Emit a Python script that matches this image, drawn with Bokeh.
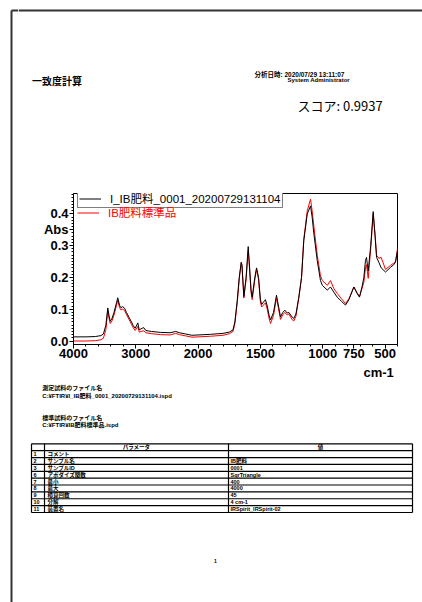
import numpy as np
from bokeh.plotting import figure
from bokeh.models import (Range1d, FixedTicker, CustomJSTickFormatter, CustomJSTransform,
                          Legend, LegendItem, ColumnDataSource)
from bokeh.transform import transform
from bokeh.layouts import row, column
from bokeh.core.properties import value
from bokeh.embed import file_html
from bokeh.resources import INLINE

# ---------------- data ----------------
wavenumber = [4000, 3800, 3650, 3560, 3520, 3480, 3450, 3430, 3410, 3380, 3350, 3310, 3290,
              3260, 3240, 3210, 3180, 3150, 3110, 3070, 3040, 3010, 2968, 2945, 2900, 2872,
              2840, 2750, 2600, 2450, 2360, 2300, 2200, 2100, 2000, 1900, 1800, 1750, 1720,
              1705, 1686, 1670, 1654, 1648, 1633, 1615, 1598, 1590, 1575, 1566, 1545, 1531,
              1515, 1500, 1490, 1460, 1445, 1430, 1419, 1395, 1371, 1355, 1339, 1320, 1304,
              1285, 1272, 1245, 1232, 1215, 1192, 1170, 1152, 1124, 1098, 1085, 1071, 1044,
              1018, 1003, 963, 938, 911, 884, 850, 817, 790, 750, 725, 705, 685, 670, 657,
              649, 635, 615, 595, 580, 568, 550, 531, 496, 456, 430, 416, 400]
sample_abs = [0.013, 0.013, 0.014, 0.017, 0.022, 0.050, 0.104, 0.080, 0.062, 0.072, 0.090, 0.120, 0.136,
              0.112, 0.105, 0.108, 0.103, 0.090, 0.075, 0.060, 0.048, 0.040, 0.057, 0.035, 0.040, 0.042,
              0.033, 0.030, 0.027, 0.026, 0.030, 0.026, 0.022, 0.018, 0.019, 0.021, 0.024, 0.028, 0.035,
              0.060, 0.128, 0.200, 0.248, 0.240, 0.140, 0.200, 0.297, 0.250, 0.160, 0.138, 0.200, 0.230,
              0.200, 0.130, 0.115, 0.130, 0.110, 0.080, 0.066, 0.090, 0.144, 0.110, 0.076, 0.090, 0.097,
              0.088, 0.090, 0.075, 0.071, 0.085, 0.138, 0.200, 0.316, 0.400, 0.425, 0.390, 0.337, 0.253,
              0.190, 0.175, 0.160, 0.170, 0.154, 0.138, 0.125, 0.113, 0.130, 0.170, 0.150, 0.138, 0.170,
              0.200, 0.253, 0.263, 0.220, 0.300, 0.407, 0.330, 0.263, 0.248, 0.230, 0.217, 0.232, 0.240,
              0.248, 0.284]
standard_abs = [0.000, 0.000, 0.001, 0.004, 0.009, 0.036, 0.095, 0.072, 0.055, 0.064, 0.082, 0.112, 0.128,
                0.105, 0.098, 0.100, 0.096, 0.083, 0.068, 0.053, 0.041, 0.033, 0.046, 0.028, 0.031, 0.032,
                0.026, 0.023, 0.020, 0.019, 0.024, 0.020, 0.016, 0.012, 0.013, 0.015, 0.018, 0.023, 0.030,
                0.055, 0.120, 0.195, 0.245, 0.236, 0.135, 0.193, 0.285, 0.242, 0.153, 0.130, 0.193, 0.225,
                0.193, 0.122, 0.107, 0.120, 0.100, 0.070, 0.055, 0.080, 0.135, 0.102, 0.068, 0.083, 0.090,
                0.082, 0.085, 0.067, 0.063, 0.078, 0.135, 0.200, 0.320, 0.410, 0.446, 0.410, 0.360, 0.270,
                0.205, 0.190, 0.175, 0.190, 0.165, 0.150, 0.133, 0.118, 0.133, 0.170, 0.152, 0.140, 0.165,
                0.185, 0.230, 0.240, 0.197, 0.290, 0.400, 0.335, 0.270, 0.260, 0.263, 0.225, 0.238, 0.245,
                0.250, 0.290]

sample_name = "I_IB肥料_0001_20200729131104"
standard_name = "IB肥料標準品"
x_tick_wn = [4000, 3000, 2000, 1500, 1000, 750, 500]
y_tick_labels = {0.0: "0.0", 0.1: "0.1", 0.2: "0.2", 0.3: "0.3", 0.35: "Abs", 0.4: "0.4"}

row_no = ["1", "2", "3", "6", "7", "8", "9", "10", "11"]
param_names = ["コメント", "サンプル名", "サンプルID", "アポダイズ関数", "最小", "最大", "積算回数", "分解", "装置名"]
param_values = ["", "IB肥料", "0001", "SqrTriangle", "400", "4000", "45", "4 cm-1", "IRSpirit_IRSpirit-02"]

# ---------------- styles ----------------
JP = "Noto Sans CJK JP"
MIX = "Liberation Sans, Noto Sans CJK JP"
BORDER = "#333333"
W = 422
H = 602
STRIP = 18
CW = W - STRIP
CH = 181

def wn_to_u(w):
    w = np.asarray(w, dtype=float)
    return np.where(w > 2000, (2000 - w) / 2.0, 2000 - w)

def blank(width, height, x0, x1, y0, y1):
    f = figure(width=width, height=height, x_range=Range1d(x0, x1), y_range=Range1d(y1, y0),
               output_backend="svg", toolbar_location=None, min_border=0)
    f.axis.visible = False
    f.grid.visible = False
    f.outline_line_color = None
    f.background_fill_color = "white"
    f.border_fill_color = "white"
    return f

def txt(f, x, y, s, size, font=JP, style="normal", color="black", align="left"):
    f.text(x=[x], y=[y], text=[s], text_font=value(font), text_font_size=size,
           text_font_style=style, text_color=color, text_align=align, text_baseline="middle")

# ---------------- left strip: page border, full height ----------------
strip = blank(STRIP, H, 0, STRIP, 0, H)
strip.segment(x0=[11, 11], y0=[10, 10], x1=[11, STRIP], y1=[H, 10], line_color=BORDER, line_width=2)
strip.styles = {"position": "relative", "z-index": "10"}

# ---------------- header (page y 0..185) ----------------
head = blank(CW, 185, STRIP, W, 0, 185)
head.segment(x0=[STRIP], y0=[10], x1=[W], y1=[10], line_color=BORDER, line_width=2)
txt(head, 31.5, 80, "一致度計算", "10px", style="bold")
txt(head, 254, 74, "分析日時: 2020/07/29 13:11:07", "6.5px", font=MIX, style="bold")
txt(head, 287, 79.5, "System Administrator", "6px", font=MIX, style="bold")
txt(head, 297, 105, "スコア: 0.9937", "13px", font=JP)

# ---------------- chart (page y 185..366) ----------------
chart = figure(width=CW, height=CH, x_range=Range1d(-1000, 1600), y_range=Range1d(-0.011, 0.464),
               output_backend="svg", toolbar_location=None,
               min_border_left=73 - STRIP, min_border_right=25, min_border_top=8, min_border_bottom=22)
chart.grid.visible = False
chart.outline_line_color = "black"
chart.outline_line_width = 1
chart.background_fill_color = "white"
chart.border_fill_color = None

src = ColumnDataSource(dict(wn=wavenumber, sample=sample_abs, standard=standard_abs))
brk = CustomJSTransform(v_func="return xs.map(w => w > 2000 ? (2000 - w) / 2 : 2000 - w)")
r_std = chart.line(x=transform("wn", brk), y="standard", source=src, line_color="#ff0000", line_width=1)
r_smp = chart.line(x=transform("wn", brk), y="sample", source=src, line_color="#000000", line_width=1)

minor_wn = list(range(4000, 2000, -200)) + list(range(2000, 399, -100))
chart.xaxis.ticker = FixedTicker(ticks=[float(v) for v in wn_to_u(x_tick_wn)],
                                 minor_ticks=[float(v) for v in wn_to_u(minor_wn)])
chart.xaxis.formatter = CustomJSTickFormatter(
    code="const w = tick < 0 ? 2000 - 2 * tick : 2000 - tick; return Math.round(w).toString();")
chart.yaxis.ticker = FixedTicker(ticks=list(y_tick_labels.keys()), minor_ticks=[i / 100 for i in range(0, 47)])
chart.yaxis.major_label_overrides = y_tick_labels
for ax in (chart.xaxis[0], chart.yaxis[0]):
    ax.major_label_text_font = "Liberation Sans"
    ax.major_label_text_font_size = "13px"
    ax.major_label_text_font_style = "bold"
    ax.major_label_text_color = "black"
    ax.axis_line_color = "black"
    ax.major_tick_line_color = "black"
    ax.minor_tick_line_color = "black"
    ax.major_tick_in = 0
    ax.major_tick_out = 4
    ax.minor_tick_in = 0
    ax.minor_tick_out = 2
chart.xaxis.major_label_standoff = 0
chart.yaxis.major_label_standoff = 1

common = dict(padding=1, margin=0, glyph_width=22, glyph_height=13, label_height=13,
              label_standoff=9, label_text_font=MIX, label_text_font_size="11.5px")
leg1 = Legend(items=[LegendItem(label=sample_name, renderers=[r_smp])], location=(4, 136),
              border_line_color="black", border_line_width=1, background_fill_alpha=1,
              label_text_color="black", **common)
leg2 = Legend(items=[LegendItem(label=standard_name, renderers=[r_std])], location=(4, 124),
              border_line_color=None, background_fill_alpha=0,
              label_text_color="#ff0000", **common)
chart.add_layout(leg1)
chart.add_layout(leg2)

# ---------------- footer (page y 366..602) ----------------
foot = blank(CW, H - 185 - CH, STRIP, W, 185 + CH, H)
txt(foot, 363, 372, "cm-1", "13px", font="Liberation Sans", style="bold")
txt(foot, 41.7, 386.7, "測定試料のファイル名", "6px", style="bold")
txt(foot, 41.7, 395, "C:¥FTIR¥" + sample_name + ".ispd", "6px", font=MIX, style="bold")
txt(foot, 41.7, 416.7, "標準試料のファイル名", "6px", style="bold")
txt(foot, 41.7, 424, "C:¥FTIR¥" + standard_name + ".ispd", "6px", font=MIX, style="bold")

tx0, tx1, tx2, tx3 = 31, 44, 228, 412
ty0, rh = 443.3, 6.87
n_rows = len(row_no) + 1
ys = [ty0 + k * rh for k in range(n_rows + 1)]
foot.segment(x0=[tx0] * len(ys), y0=ys, x1=[tx3] * len(ys), y1=ys, line_color="black", line_width=1.2)
foot.segment(x0=[tx0, tx1, tx2, tx3], y0=[ys[0]] * 4, x1=[tx0, tx1, tx2, tx3], y1=[ys[-1]] * 4,
             line_color="black", line_width=1.2)
txt(foot, (tx1 + tx2) / 2, ys[0] + rh / 2, "パラメータ", "5.5px", style="bold", align="center")
txt(foot, (tx2 + tx3) / 2, ys[0] + rh / 2, "値", "5.5px", style="bold", align="center")
for i, (n, pn, pv) in enumerate(zip(row_no, param_names, param_values)):
    yc = ys[i + 1] + rh / 2
    txt(foot, tx0 + 2, yc, n, "5.5px", font=MIX, style="bold")
    txt(foot, tx1 + 3, yc, pn, "5.5px", font=MIX, style="bold")
    if pv:
        txt(foot, tx2 + 2, yc, pv, "5.5px", font=MIX, style="bold")
txt(foot, 215, 560, "1", "5px", font=MIX, style="bold", align="center")

page = column(head, row(chart, spacing=0), foot, spacing=0)
layout = row(strip, page, spacing=0)
open("out.html", "w").write(file_html(layout, INLINE))
